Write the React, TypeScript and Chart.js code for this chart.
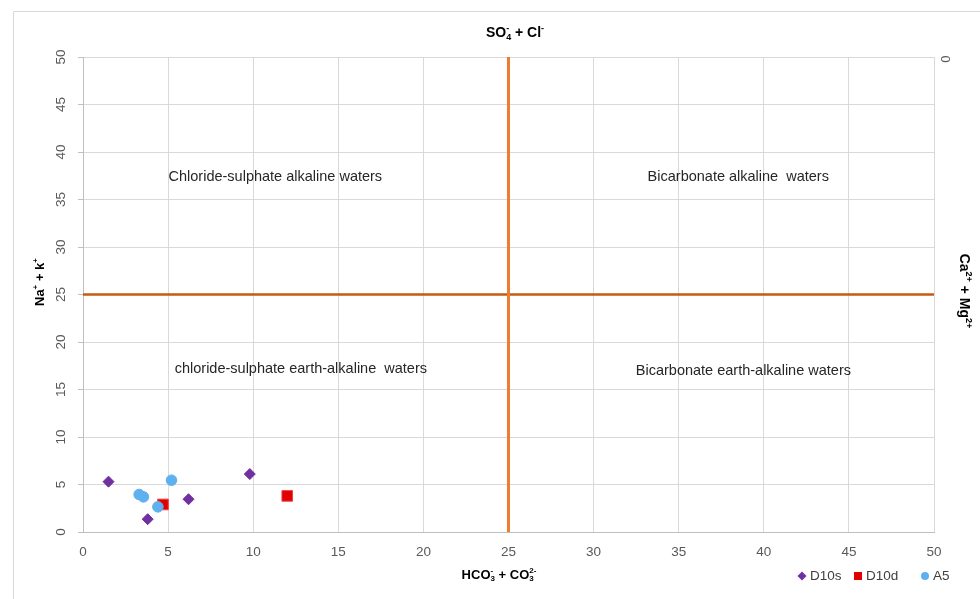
import React, { useEffect, useRef } from 'react';
import { Chart, registerables } from 'chart.js';

Chart.register(...registerables);

// ---- data ----
const seriesNames = ['D10s', 'D10d', 'A5'];
const d10sX = [1.5, 3.8, 6.2, 9.8];
const d10sY = [5.3, 1.35, 3.45, 6.1];
const d10dX = [4.7, 12.0];
const d10dY = [2.9, 3.8];
const a5X = [3.3, 3.55, 4.4, 5.2];
const a5Y = [3.95, 3.7, 2.65, 5.45];
const dividerValue = 25;
const axisMin = 0;
const axisMax = 50;
const axisStep = 5;
const zoneLabels = [
  'Chloride-sulphate alkaline waters',
  'Bicarbonate alkaline  waters',
  'chloride-sulphate earth-alkaline  waters',
  'Bicarbonate earth-alkaline waters',
];
const zoneX = [11.3, 38.5, 12.8, 38.8];
const zoneY = [37.4, 37.4, 17.2, 16.9];

const FONT = '"Liberation Sans", Arial, sans-serif';

type Seg = { t: string; s?: 'sub' | 'sup'; stack?: boolean };

function drawRich(
  ctx: CanvasRenderingContext2D,
  segs: Seg[],
  cx: number,
  cy: number,
  rot: number,
  size: number,
  bold: boolean,
  color: string
) {
  ctx.save();
  ctx.translate(cx, cy);
  ctx.rotate(rot);
  const fontFor = (s: Seg) =>
    `${bold ? 'bold ' : ''}${s.s ? Math.round(size * 0.65) : size}px ${FONT}`;
  // compute positions (stack = place on top of previous segment)
  const pos: number[] = [];
  let cursor = 0;
  let prevStart = 0;
  let prevW = 0;
  segs.forEach((s) => {
    ctx.font = fontFor(s);
    const w = ctx.measureText(s.t).width;
    if (s.stack) {
      pos.push(prevStart);
      cursor = prevStart + Math.max(prevW, w);
      prevW = Math.max(prevW, w);
    } else {
      pos.push(cursor);
      prevStart = cursor;
      prevW = w;
      cursor += w;
    }
  });
  const total = cursor;
  ctx.textBaseline = 'middle';
  ctx.textAlign = 'left';
  ctx.fillStyle = color;
  segs.forEach((s, i) => {
    ctx.font = fontFor(s);
    const dy = s.s === 'sub' ? size * 0.3 : s.s === 'sup' ? -size * 0.35 : 0;
    ctx.fillText(s.t, pos[i] - total / 2, dy);
  });
  ctx.restore();
}

const decorPlugin = {
  id: 'decor',
  beforeDraw(chart: any) {
    const ctx = chart.ctx as CanvasRenderingContext2D;
    ctx.save();
    ctx.strokeStyle = '#D9D9D9';
    ctx.lineWidth = 1;
    ctx.beginPath();
    ctx.moveTo(13.5, 599);
    ctx.lineTo(13.5, 11.5);
    ctx.lineTo(980, 11.5);
    ctx.stroke();
    ctx.restore();
  },
  afterDraw(chart: any) {
    const ctx = chart.ctx as CanvasRenderingContext2D;
    const xs = chart.scales.x;
    const ys = chart.scales.y;
    // zone labels
    ctx.save();
    ctx.font = `14.5px ${FONT}`;
    ctx.fillStyle = '#262626';
    ctx.textAlign = 'center';
    ctx.textBaseline = 'middle';
    zoneLabels.forEach((t, i) => {
      ctx.fillText(t, xs.getPixelForValue(zoneX[i]), ys.getPixelForValue(zoneY[i]));
    });
    ctx.restore();

    // titles
    drawRich(ctx, [{ t: 'SO' }, { t: '4', s: 'sub' }, { t: '-', s: 'sup', stack: true }, { t: ' + Cl' }, { t: '-', s: 'sup' }], 515, 33, 0, 14, true, '#000');
    drawRich(ctx, [{ t: 'HCO' }, { t: '3', s: 'sub' }, { t: '-', s: 'sup', stack: true }, { t: ' + CO' }, { t: '3', s: 'sub' }, { t: '2-', s: 'sup', stack: true }], 499, 575, 0, 13, true, '#000');
    drawRich(ctx, [{ t: 'Na' }, { t: '+', s: 'sup' }, { t: ' + k' }, { t: '+', s: 'sup' }], 40, 282, -Math.PI / 2, 13, true, '#000');
    drawRich(ctx, [{ t: 'Ca' }, { t: '2+', s: 'sup' }, { t: ' + Mg' }, { t: '2+', s: 'sup' }], 964, 291, Math.PI / 2, 14, true, '#000');
    drawRich(ctx, [{ t: '0' }], 945, 59, Math.PI / 2, 13, false, '#595959');

    // legend
    const ly = 576;
    const items = [
      { mx: 802, tx: 810 },
      { mx: 858, tx: 866 },
      { mx: 925, tx: 933 },
    ];
    const scatterSets = chart.data.datasets.slice(2);
    ctx.save();
    scatterSets.forEach((ds: any, i: number) => {
      const { mx, tx } = items[i];
      ctx.fillStyle = ds.backgroundColor;
      ctx.beginPath();
      if (ds.pointStyle === 'rectRot') {
        const r = 4.5;
        ctx.moveTo(mx, ly - r);
        ctx.lineTo(mx + r, ly);
        ctx.lineTo(mx, ly + r);
        ctx.lineTo(mx - r, ly);
        ctx.closePath();
      } else if (ds.pointStyle === 'rect') {
        ctx.rect(mx - 4, ly - 4, 8, 8);
      } else {
        ctx.arc(mx, ly, 4, 0, Math.PI * 2);
      }
      ctx.fill();
      ctx.font = `13.5px ${FONT}`;
      ctx.fillStyle = '#404040';
      ctx.textAlign = 'left';
      ctx.textBaseline = 'middle';
      ctx.fillText(ds.label, tx, ly);
    });
    ctx.restore();
  },
};

function toPoints(xs: number[], ys: number[]) {
  return xs.map((x, i) => ({ x, y: ys[i] }));
}

export default function App() {
  const ref = useRef<HTMLCanvasElement>(null);
  useEffect(() => {
    if (!ref.current) return;
    const chart = new Chart(ref.current, {
      type: 'scatter',
      data: {
        datasets: [
          {
            label: 'v',
            data: [
              { x: dividerValue, y: axisMin },
              { x: dividerValue, y: axisMax },
            ],
            showLine: true,
            borderColor: '#ED7D31',
            backgroundColor: '#ED7D31',
            borderWidth: 3,
            pointRadius: 0,
            order: 3,
          },
          {
            label: 'h',
            data: [
              { x: axisMin, y: dividerValue },
              { x: axisMax, y: dividerValue },
            ],
            showLine: true,
            borderColor: '#C55A11',
            backgroundColor: '#C55A11',
            borderWidth: 2.5,
            pointRadius: 0,
            order: 4,
          },
          {
            label: seriesNames[0],
            data: toPoints(d10sX, d10sY),
            pointStyle: 'rectRot',
            pointRadius: 5.5,
            backgroundColor: '#7030A0',
            borderColor: '#7030A0',
            borderWidth: 1,
            order: 2,
          },
          {
            label: seriesNames[1],
            data: toPoints(d10dX, d10dY),
            pointStyle: 'rect',
            pointRadius: 7.5,
            backgroundColor: '#E00000',
            borderColor: '#F04040',
            borderWidth: 1,
            order: 1,
          },
          {
            label: seriesNames[2],
            data: toPoints(a5X, a5Y),
            pointStyle: 'circle',
            pointRadius: 5.3,
            backgroundColor: '#5FB0EE',
            borderColor: '#5FB0EE',
            borderWidth: 1,
            order: 0,
          },
        ] as any,
      },
      options: {
        animation: false,
        responsive: false,
        devicePixelRatio: 1,
        layout: { padding: { top: 57, right: 46, left: 0, bottom: 0 } },
        plugins: {
          legend: { display: false },
          tooltip: { enabled: false },
        },
        scales: {
          x: {
            type: 'linear',
            min: axisMin,
            max: axisMax,
            ticks: {
              stepSize: axisStep,
              color: '#595959',
              font: { size: 13.5, family: FONT },
              padding: 12,
            },
            grid: { color: '#D9D9D9', tickLength: 0 },
            border: { color: '#BFBFBF' },
            afterFit: (s: any) => {
              s.height = 67;
            },
          },
          y: {
            type: 'linear',
            min: axisMin,
            max: axisMax,
            ticks: {
              stepSize: axisStep,
              color: '#595959',
              font: { size: 13.5, family: FONT },
              padding: 9,
              minRotation: 90,
              maxRotation: 90,
              crossAlign: 'center',
            },
            grid: { color: '#D9D9D9', tickLength: 5, tickColor: '#BFBFBF' },
            border: { color: '#BFBFBF' },
            afterFit: (s: any) => {
              s.width = 83;
            },
          },
        },
      } as any,
      plugins: [decorPlugin],
    });
    return () => chart.destroy();
  }, []);
  return (
    <div style={{ position: 'fixed', left: 0, top: 0, width: 980, height: 599, background: '#fff' }}>
      <canvas ref={ref} width={980} height={599} style={{ width: 980, height: 599 }} />
    </div>
  );
}
